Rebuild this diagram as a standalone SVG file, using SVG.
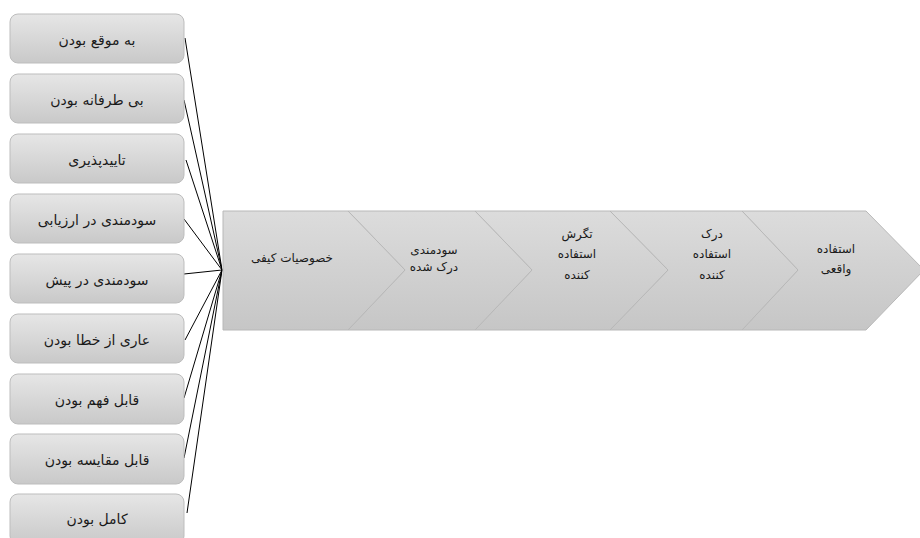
<svg xmlns="http://www.w3.org/2000/svg" width="920" height="538" viewBox="0 0 920 538">
<defs>
<linearGradient id="gbox" x1="0" y1="0" x2="0" y2="1">
<stop offset="0" stop-color="#e6e6e6"/>
<stop offset="1" stop-color="#c9c9c9"/>
</linearGradient>
<linearGradient id="gchev" x1="0" y1="0" x2="0" y2="1">
<stop offset="0" stop-color="#dcdcdc"/>
<stop offset="1" stop-color="#c6c6c6"/>
</linearGradient>
</defs>
<style>
.box{fill:url(#gbox);stroke:#bdbdbd;stroke-width:1}
.chev{fill:url(#gchev);stroke:#b8b8b8;stroke-width:1}
.t{font-family:"DejaVu Sans",sans-serif;font-size:14px;fill:#1a1a1a;text-anchor:middle;direction:rtl}
.c{font-family:"DejaVu Sans",sans-serif;font-size:12px;fill:#1a1a1a;text-anchor:middle;direction:rtl}
.ln{stroke:#000;stroke-width:1;fill:none}
</style>
<rect width="920" height="538" fill="#ffffff"/>
<g id="connectors">
<line class="ln" x1="185" y1="38" x2="222" y2="270"/>
<line class="ln" x1="184" y1="100" x2="222" y2="270"/>
<line class="ln" x1="186" y1="160" x2="222" y2="270"/>
<line class="ln" x1="184" y1="219" x2="222" y2="270"/>
<line class="ln" x1="184" y1="274" x2="222" y2="270"/>
<line class="ln" x1="185" y1="340" x2="222" y2="270"/>
<line class="ln" x1="184" y1="398" x2="222" y2="270"/>
<line class="ln" x1="184" y1="458" x2="222" y2="270"/>
<line class="ln" x1="187" y1="513" x2="222" y2="270"/>
</g>
<g id="n1"><rect class="box" x="10" y="14" width="174" height="49" rx="8"/><text class="t" x="97" y="45">به موقع بودن</text></g>
<g id="n2"><rect class="box" x="10" y="74" width="174" height="49" rx="8"/><text class="t" x="97" y="105">بی طرفانه بودن</text></g>
<g id="n3"><rect class="box" x="10" y="134" width="174" height="49" rx="8"/><text class="t" x="97" y="165">تاییدپذیری</text></g>
<g id="n4"><rect class="box" x="10" y="194" width="174" height="49" rx="8"/><text class="t" x="97" y="225">سودمندی در ارزیابی</text></g>
<g id="n5"><rect class="box" x="10" y="254" width="174" height="49" rx="8"/><text class="t" x="97" y="285">سودمندی در پیش</text></g>
<g id="n6"><rect class="box" x="10" y="314" width="174" height="49" rx="8"/><text class="t" x="97" y="345">عاری از خطا بودن</text></g>
<g id="n7"><rect class="box" x="10" y="374" width="174" height="50" rx="8"/><text class="t" x="97" y="405">قابل فهم بودن</text></g>
<g id="n8"><rect class="box" x="10" y="434" width="174" height="50" rx="8"/><text class="t" x="97" y="465">قابل مقایسه بودن</text></g>
<g id="n9"><rect class="box" x="10" y="494" width="174" height="50" rx="8"/><text class="t" x="97" y="524">کامل بودن</text></g>
<g id="s5"><polygon class="chev" points="742,211 866,211 924,270 866,330 742,330 798,270"/><text class="c" x="836" y="253">استفاده</text><text class="c" x="836" y="273">واقعی</text></g>
<g id="s4"><polygon class="chev" points="610,211 742,211 798,270 742,330 610,330 668,270"/><text class="c" x="712" y="238">درک</text><text class="c" x="712" y="258">استفاده</text><text class="c" x="712" y="279">کننده</text></g>
<g id="s3"><polygon class="chev" points="475,211 610,211 668,270 610,330 475,330 532,270"/><text class="c" x="577" y="238">تگرش</text><text class="c" x="577" y="258">استفاده</text><text class="c" x="577" y="279">کننده</text></g>
<g id="s2"><polygon class="chev" points="348,211 475,211 532,270 475,330 348,330 405,270"/><text class="c" x="434" y="254">سودمندی</text><text class="c" x="434" y="271">درک شده</text></g>
<g id="s1"><polygon class="chev" points="223,211 348,211 405,270 348,330 223,330"/><text class="c" x="292" y="262">خصوصیات کیفی</text></g>
</svg>
